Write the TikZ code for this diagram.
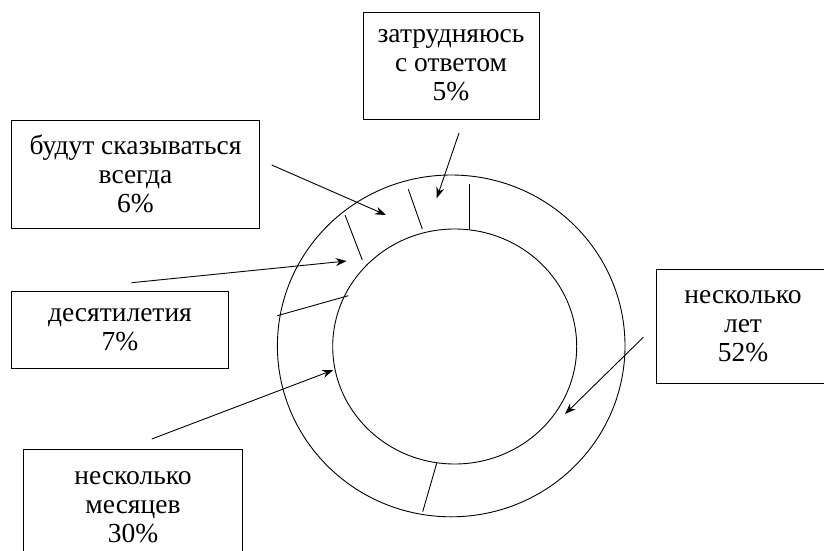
\documentclass[tikz,border=0pt]{standalone}
\usepackage{fontspec}
\setmainfont{Liberation Serif}
\usetikzlibrary{arrows.meta}

\begin{document}
\begin{tikzpicture}[x=1pt,y=-1pt,>={Stealth[length=11pt,width=8pt]},line width=0.9pt,
  share box/.style={draw,align=center,inner sep=0pt,font=\fontsize{27.5}{29.2}\selectfont}]
  \useasboundingbox (0,0) rectangle (824,551);

  % ring
  \draw (451.2,345.9) ellipse [x radius=173.8, y radius=170.9];
  \draw (454.7,346.5) ellipse [x radius=122, y radius=117.5];

  % segment borders
  \draw (469.7,184) -- (469.7,229);
  \draw (408.3,189.3) -- (422.3,229);
  \draw (345,215) -- (362.3,260);
  \draw (277.3,315.7) -- (348.3,295.7);
  \draw (422.7,511.7) -- (436.7,463.3);

  \node[share box,minimum width=176,minimum height=107] (hard) at (451,65.5)
    {затрудняюсь\\с ответом\\5\%};
  \node[share box,minimum width=248,minimum height=108] (always) at (135.5,174)
    {будут сказываться\\всегда\\6\%};
  \node[share box,minimum width=217,minimum height=77] (decades) at (120,329.7)
    {десятилетия\\7\%};
  \node[share box,minimum width=219,minimum height=116] (months) at (133,507)
    {несколько\\месяцев\\30\%};
  \node[share box,minimum width=174,minimum height=114] (years) at (743,326)
    {несколько\\лет\\52\%};

  \coordinate (hard tail) at (459,133);
  \coordinate (hard head) at (436.7,198.3);
  \coordinate (always tail) at (271.7,165);
  \coordinate (always head) at (386,215);
  \coordinate (decades tail) at (131.7,282.7);
  \coordinate (decades head) at (346.7,261);
  \coordinate (months tail) at (151.7,439);
  \coordinate (months head) at (333.3,370);
  \coordinate (years tail) at (643.3,337.3);
  \coordinate (years head) at (565,414);

  \foreach \s in {hard,always,decades,months,years}
    \draw[->] (\s\space tail) -- (\s\space head);
\end{tikzpicture}
\end{document}
